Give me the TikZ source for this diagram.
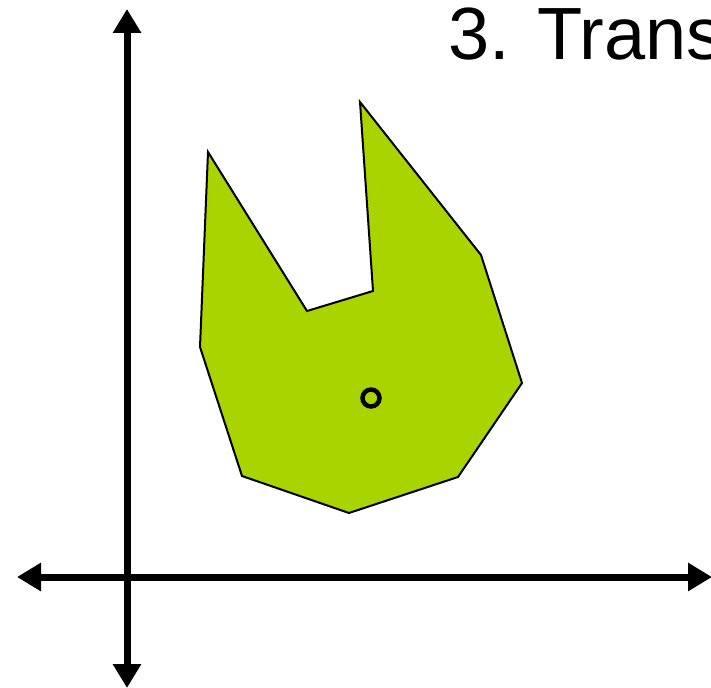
\documentclass[tikz,border=0pt]{standalone}
\usepackage{fontspec}
\setmainfont{Liberation Sans}
\definecolor{ShapeGreen}{RGB}{170, 212, 0}
\usetikzlibrary{arrows.meta}

\begin{document}
\begin{tikzpicture}[
  x=1pt, y=-1pt,
  axis/.style={line width=7pt, {Triangle[length=24pt, width=27pt]}-{Triangle[length=24pt, width=27pt]}},
  blob/.style={draw=black, line width=2pt, fill=ShapeGreen, line join=miter},
  pivot/.style={circle, draw=black, line width=4.5pt, minimum size=17pt, inner sep=0pt},
  heading/.style={anchor=base west, inner sep=0pt, font=\fontsize{74}{74}\selectfont}
]
\useasboundingbox (0,0) rectangle (711,687);
\clip (0,0) rectangle (711,687);

% axes
\coordinate (ytop) at (127,9);
\coordinate (ybot) at (127,688);
\coordinate (xleft) at (17,577);
\coordinate (xright) at (712,577);
\draw[axis] (ybot) -- (ytop);
\draw[axis] (xleft) -- (xright);

% shape
\draw[blob] (208,152) -- (307,311) -- (373,291) -- (360,102) -- (481,255)
  -- (522,383) -- (458,477) -- (349,513) -- (242,476) -- (200,347) -- cycle;
\node[pivot] (centre) at (371,398) {};

\node[heading] (title) at (448,60) {3. Trans};
\end{tikzpicture}
\end{document}
